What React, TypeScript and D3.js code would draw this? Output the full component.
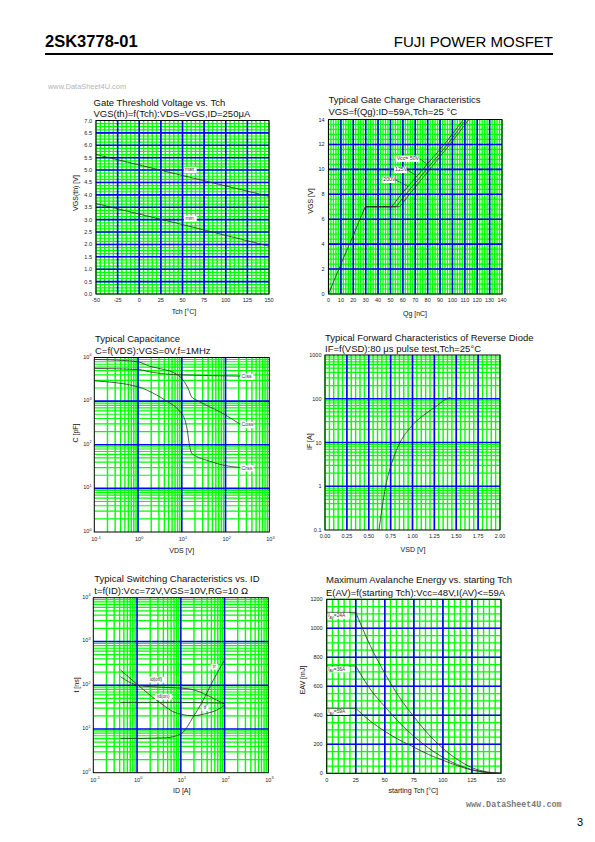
import React from 'react';
import * as d3 from 'd3';

type Pt = [number, number];

const FONT = '"Liberation Sans", Arial, Helvetica, sans-serif';
const GREEN = '#00ff00';
const BLUE = '#0000ff';
const INK = '#2a2a2a';

// ---------- Chart 1 : Gate threshold voltage vs Tch
const vthMax: Pt[] = [[-50, 5.63], [50, 4.78], [150, 3.94]];
const vthMin: Pt[] = [[-50, 3.65], [50, 2.8], [150, 1.93]];
const vthXTicks = [-50, -25, 0, 25, 50, 75, 100, 125, 150];
const vthYTicks = [0, 0.5, 1, 1.5, 2, 2.5, 3, 3.5, 4, 4.5, 5, 5.5, 6, 6.5, 7];

// ---------- Chart 2 : Gate charge
const gcStart: Pt[] = [[0, 0], [10, 2.4], [20, 4.7], [29.6, 7.0]];
const gc50: Pt[] = [[51, 7], [58.7, 8], [93.5, 12], [109, 14]];
const gc125: Pt[] = [[54.5, 7], [62.4, 8], [96, 12], [111, 14]];
const gc200: Pt[] = [[57.5, 7], [65.3, 8], [98, 12], [113.3, 14]];
const gcXTicks = [0, 10, 20, 30, 40, 50, 60, 70, 80, 90, 100, 110, 120, 130, 140];
const gcYTicks = [0, 2, 4, 6, 8, 10, 12, 14];
const gcNotes = [
  { text: 'Vcc= 50V', tx: 55, ty: 10.75, ex: 79, ey: 10.45 },
  { text: '125V', tx: 53.7, ty: 9.85, ex: 70, ey: 9.55 },
  { text: '200V', tx: 44.2, ty: 9.05, ex: 64.4, ey: 8.62 },
];

// ---------- Chart 3 : Capacitance (pF vs V)
const ciss: Pt[] = [[0.1, 5610], [1.0, 5310], [1.85, 4700], [4.0, 4200], [10.8, 3990], [40, 3850], [215, 3740]];
const coss: Pt[] = [[0.1, 9000], [0.32, 8700], [1.0, 7950], [1.85, 6310], [3.9, 5310], [6.6, 4470], [10.8, 3000], [14, 1930], [16.8, 1250], [21.8, 1050], [37, 800], [89, 515], [215, 294]];
const crss: Pt[] = [[0.1, 2920], [1.0, 2130], [2.65, 1380], [4.5, 1000], [9.1, 570], [11.8, 370], [13.3, 220], [14.9, 100], [16.8, 64], [21.8, 54], [37, 44], [89, 34], [215, 30]];
const capExp = [-1, 0, 1, 2, 3];
const capYExp = [0, 1, 2, 3, 4];

// ---------- Chart 4 : Reverse diode
const diode: Pt[] = [[0.617, 0.1], [0.65, 0.3], [0.693, 1], [0.75, 2.8], [0.8, 5.5], [0.857, 10], [0.93, 17], [1.0, 25], [1.125, 42], [1.25, 62], [1.39, 100], [1.436, 108]];
const diodeXTicks = [0, 0.25, 0.5, 0.75, 1.0, 1.25, 1.5, 1.75, 2.0];
const diodeYTicks = [0.1, 1, 10, 100, 1000];
const diodeYLabels = ['0.1', '1', '10', '100', '1000'];

// ---------- Chart 5 : Switching times (ns vs A)
const swTdOff: Pt[] = [[0.42, 156], [1.0, 100], [1.98, 92.5], [6.7, 87.8], [16.2, 81.7], [32.6, 65], [55.5, 50], [100, 37]];
const swTdOn: Pt[] = [[0.42, 40.5], [1, 40.5], [10, 40.5], [30, 40], [100, 39]];
const swTf: Pt[] = [[0.42, 222], [1.0, 105], [1.98, 59.5], [3.99, 34.9], [6.7, 24.8], [10.4, 21.5], [19.3, 20.0], [38.8, 22.7], [66.6, 27.0], [100, 35]];
const swTr: Pt[] = [[0.42, 6.1], [1.0, 6.1], [4.7, 6.3], [10.4, 7.9], [19.3, 19], [32.6, 45.7], [55.5, 131], [100, 376]];
const swNotes = [
  { text: 'td(off)', x: 2.69, y: 139 },
  { text: 'td(on)', x: 3.98, y: 56.6 },
  { text: 'tf', x: 35.7, y: 31.3 },
  { text: 'tr', x: 58.3, y: 275 },
];

// ---------- Chart 6 : Avalanche energy (mJ vs degC)
const eav24: Pt[] = [[0, 1110], [25, 1110], [37.5, 880], [50, 690], [62.5, 525], [75, 391], [87.5, 270], [100, 172], [112.5, 95], [125, 39], [137.5, 10], [150, 0]];
const eav36: Pt[] = [[0, 740], [25, 740], [37.5, 580], [50, 460], [62.5, 350], [75, 255], [87.5, 175], [100, 110], [112.5, 60], [125, 25], [137.5, 7], [150, 0]];
const eav59: Pt[] = [[0, 448], [25, 448], [37.5, 360], [50, 290], [62.5, 230], [75, 180], [87.5, 130], [100, 90], [112.5, 52], [125, 22], [137.5, 6], [150, 0]];
const eavLabels = ['24A', '36A', '59A'];
const eavXTicks = [0, 25, 50, 75, 100, 125, 150];
const eavYTicks = [0, 200, 400, 600, 800, 1000, 1200];

// ---------- helpers
function steps(min: number, max: number, step: number): number[] {
  const n = Math.round((max - min) / step);
  return d3.range(n + 1).map((i) => +(min + i * step).toFixed(6));
}
function logMinor(lo: number, hi: number): number[] {
  const out: number[] = [];
  for (let e = lo; e < hi; e++) for (let k = 2; k <= 9; k++) out.push(k * Math.pow(10, e));
  return out;
}
function decades(lo: number, hi: number): number[] {
  return d3.range(lo, hi + 1).map((e) => Math.pow(10, e));
}

function Grid({ x, y, xMinor, xMajor, yMinor, yMajor }: any) {
  const [x0, x1] = x.range();
  const [yb, yt] = y.range();
  return (
    <g>
      <rect x={x0} y={yt} width={x1 - x0} height={yb - yt} fill="#fff" />
      {xMinor.map((v: number, i: number) => (
        <line key={'xm' + i} x1={x(v)} x2={x(v)} y1={yb} y2={yt} stroke={GREEN} strokeWidth={1.4} />
      ))}
      {yMinor.map((v: number, i: number) => (
        <line key={'ym' + i} x1={x0} x2={x1} y1={y(v)} y2={y(v)} stroke={GREEN} strokeWidth={1.2} />
      ))}
      {xMajor.map((v: number, i: number) => (
        <line key={'xM' + i} x1={x(v)} x2={x(v)} y1={yb} y2={yt} stroke={BLUE} strokeWidth={1.6} />
      ))}
      {yMajor.map((v: number, i: number) => (
        <line key={'yM' + i} x1={x0} x2={x1} y1={y(v)} y2={y(v)} stroke={BLUE} strokeWidth={1.6} />
      ))}
      <rect x={x0} y={yt} width={x1 - x0} height={yb - yt} fill="none" stroke="#000" strokeWidth={1} />
    </g>
  );
}

const TICK = 5.5;

function XTicks({ x, y, values, fmt }: any) {
  const yb = y.range()[0];
  return (
    <g fontFamily={FONT} fontSize={TICK} fill="#222" textAnchor="middle">
      {values.map((v: number, i: number) => (
        <text key={i} x={x(v)} y={yb + 8.3}>{fmt(v)}</text>
      ))}
    </g>
  );
}
function YTicks({ x, y, values, fmt }: any) {
  const x0 = x.range()[0];
  return (
    <g fontFamily={FONT} fontSize={TICK} fill="#222" textAnchor="end">
      {values.map((v: number, i: number) => (
        <text key={i} x={x0 - 4} y={y(v) + 2}>{fmt(v)}</text>
      ))}
    </g>
  );
}
function XPow({ x, y, exps }: any) {
  const yb = y.range()[0];
  return (
    <g fontFamily={FONT} fontSize={TICK} fill="#222">
      {exps.map((e: number, i: number) => (
        <text key={i} x={x(Math.pow(10, e)) - 3} y={yb + 9}>
          10<tspan dy={-2.3} fontSize={3.8}>{String(e)}</tspan>
        </text>
      ))}
    </g>
  );
}
function YPow({ x, y, exps }: any) {
  const x0 = x.range()[0];
  return (
    <g fontFamily={FONT} fontSize={TICK} fill="#222">
      {exps.map((e: number, i: number) => (
        <text key={i} x={x0 - 11} y={y(Math.pow(10, e)) + 1}>
          10<tspan dy={-2.3} fontSize={3.8}>{String(e)}</tspan>
        </text>
      ))}
    </g>
  );
}

function Titles({ x, y1, y2, l1, l2 }: any) {
  return (
    <g fontFamily={FONT} fontSize={9.5} fill="#111">
      <text x={x} y={y1}>{l1}</text>
      <text x={x} y={y2}>{l2}</text>
    </g>
  );
}
function AxisTitles({ xl, xx, xy, yl, yx, yy }: any) {
  return (
    <g fontFamily={FONT} fontSize={7} fill="#111">
      <text x={xx} y={xy} textAnchor="middle">{xl}</text>
      <text transform={`translate(${yx + 2.5},${yy}) rotate(-90)`} textAnchor="middle">{yl}</text>
    </g>
  );
}
function Tag({ x, y, text, fs = 5.2, anchor = 'start' }: any) {
  const w = text.length * fs * 0.52 + 2;
  const left = anchor === 'start' ? x - 1 : x - w / 2;
  return (
    <g>
      <rect x={left} y={y - fs * 0.85} width={w} height={fs * 1.2} fill="#fff" />
      <text x={x} y={y} fontFamily={FONT} fontSize={fs} fill="#333" textAnchor={anchor}>{text}</text>
    </g>
  );
}

function path(x: any, y: any, pts: Pt[], curve: any = d3.curveLinear) {
  return d3.line<Pt>().x((d) => x(d[0])).y((d) => y(d[1])).curve(curve)(pts) || '';
}

const plain = (v: number) => String(v);

export default function App() {
  const x1 = d3.scaleLinear().domain([-50, 150]).range([96, 269]);
  const y1 = d3.scaleLinear().domain([0, 7]).range([294, 120.5]);
  const x2 = d3.scaleLinear().domain([0, 140]).range([328.5, 502]);
  const y2 = d3.scaleLinear().domain([0, 14]).range([294, 119.5]);
  const x3 = d3.scaleLog().domain([0.1, 1000]).range([94.3, 269.3]);
  const y3 = d3.scaleLog().domain([1, 10000]).range([532, 357.5]);
  const x4 = d3.scaleLinear().domain([0, 2]).range([325, 500]);
  const y4 = d3.scaleLog().domain([0.1, 1000]).range([530, 355]);
  const x5 = d3.scaleLog().domain([0.1, 1000]).range([93.3, 268.3]);
  const y5 = d3.scaleLog().domain([1, 10000]).range([772.7, 597.7]);
  const x6 = d3.scaleLinear().domain([0, 150]).range([326.7, 501]);
  const y6 = d3.scaleLinear().domain([0, 1200]).range([773.3, 599.3]);

  const lineStyle = { fill: 'none', stroke: INK, strokeWidth: 0.8 };
  const f1 = (v: number) => v.toFixed(1);
  const f2 = (v: number) => v.toFixed(2);

  return (
    <svg width={595} height={842} viewBox="0 0 595 842" style={{ position: 'absolute', left: 0, top: 0, background: '#fff' }}>
      <rect width={595} height={842} fill="#fff" />
      {/* header */}
      <text x={45} y={47} fontFamily={FONT} fontWeight="bold" fontSize={16.5} fill="#000">2SK3778-01</text>
      <text x={553} y={47} fontFamily={FONT} fontSize={15} fill="#000" textAnchor="end">FUJI POWER MOSFET</text>
      <line x1={45} x2={553} y1={54} y2={54} stroke="#000" strokeWidth={1.8} />
      <text x={48} y={89} fontFamily={FONT} fontSize={7.4} fill="#b4b4b4">www.DataSheet4U.com</text>

      {/* ===== chart 1 ===== */}
      <Titles x={93.5} y1={106} y2={117.3} l1="Gate Threshold Voltage vs. Tch" l2="VGS(th)=f(Tch):VDS=VGS,ID=250μA" />
      <Grid x={x1} y={y1} xMinor={steps(-50, 150, 5)} xMajor={steps(-25, 125, 25)} yMinor={steps(0, 7, 0.125)} yMajor={steps(0.5, 6.5, 0.5)} />
      <path d={path(x1, y1, vthMax)} {...lineStyle} />
      <path d={path(x1, y1, vthMin)} {...lineStyle} />
      <Tag x={x1(59)} y={y1(4.95)} text="max." anchor="middle" />
      <Tag x={x1(59)} y={y1(2.99)} text="min." anchor="middle" />
      <XTicks x={x1} y={y1} values={vthXTicks} fmt={plain} />
      <YTicks x={x1} y={y1} values={vthYTicks} fmt={f1} />
      <AxisTitles xl="Tch [°C]" xx={184} xy={314} yl="VGS(th) [V]" yx={75} yy={193} />

      {/* ===== chart 2 ===== */}
      <Titles x={328.5} y1={103.3} y2={115} l1="Typical Gate Charge Characteristics" l2="VGS=f(Qg):ID=59A,Tch=25 °C" />
      <Grid x={x2} y={y2} xMinor={steps(0, 140, 2)} xMajor={steps(10, 130, 10)} yMinor={steps(0, 14, 0.4)} yMajor={steps(2, 12, 2)} />
      <g>
        <clipPath id="c2clip"><rect x={328.5} y={119.5} width={173.5} height={174.5} /></clipPath>
        <g clipPath="url(#c2clip)">
          <path d={path(x2, y2, gcStart)} {...lineStyle} />
          {[gc50, gc125, gc200].map((s, i) => (
            <path key={i} d={path(x2, y2, [gcStart[gcStart.length - 1], ...s])} {...lineStyle} />
          ))}
        </g>
      </g>
      {gcNotes.map((n, i) => {
        const w = n.text.length * 5.2 * 0.52 + 1;
        return (
          <g key={i}>
            <line x1={x2(n.tx) + w} y1={y2(n.ty) - 1.5} x2={x2(n.ex)} y2={y2(n.ey)} stroke={INK} strokeWidth={0.7} />
            <Tag x={x2(n.tx)} y={y2(n.ty)} text={n.text} />
          </g>
        );
      })}
      <XTicks x={x2} y={y2} values={gcXTicks} fmt={plain} />
      <YTicks x={x2} y={y2} values={gcYTicks} fmt={plain} />
      <AxisTitles xl="Qg [nC]" xx={415} xy={316} yl="VGS [V]" yx={310} yy={201} />

      {/* ===== chart 3 ===== */}
      <Titles x={95} y1={342.3} y2={354.3} l1="Typical Capacitance" l2="C=f(VDS):VGS=0V,f=1MHz" />
      <Grid x={x3} y={y3} xMinor={logMinor(-1, 3)} xMajor={decades(0, 2)} yMinor={logMinor(0, 4)} yMajor={decades(1, 3)} />
      <path d={path(x3, y3, ciss, d3.curveMonotoneX)} {...lineStyle} />
      <path d={path(x3, y3, coss, d3.curveMonotoneX)} {...lineStyle} />
      <path d={path(x3, y3, crss, d3.curveMonotoneX)} {...lineStyle} />
      <Tag x={x3(ciss[ciss.length - 1][0]) + 1.5} y={y3(ciss[ciss.length - 1][1]) + 2} text="Ciss" />
      <Tag x={x3(coss[coss.length - 1][0]) + 1.5} y={y3(coss[coss.length - 1][1]) + 2} text="Coss" />
      <Tag x={x3(crss[crss.length - 1][0]) + 1.5} y={y3(crss[crss.length - 1][1]) + 2} text="Crss" />
      <XPow x={x3} y={y3} exps={capExp} />
      <YPow x={x3} y={y3} exps={capYExp} />
      <AxisTitles xl="VDS [V]" xx={181.7} xy={552.7} yl="C [pF]" yx={75} yy={433} />

      {/* ===== chart 4 ===== */}
      <Titles x={325} y1={341} y2={352} l1="Typical Forward Characteristics of Reverse Diode" l2="IF=f(VSD):80 μs pulse test,Tch=25°C" />
      <Grid x={x4} y={y4} xMinor={steps(0, 2, 0.05)} xMajor={steps(0.25, 1.75, 0.25)} yMinor={logMinor(-1, 3)} yMajor={decades(0, 2)} />
      <path d={path(x4, y4, diode, d3.curveMonotoneX)} {...lineStyle} />
      <XTicks x={x4} y={y4} values={diodeXTicks} fmt={f2} />
      <g fontFamily={FONT} fontSize={TICK} fill="#222" textAnchor="end">
        {diodeYTicks.map((v, i) => (
          <text key={i} x={321.5} y={y4(v) + 2}>{diodeYLabels[i]}</text>
        ))}
      </g>
      <AxisTitles xl="VSD [V]" xx={413} xy={551.7} yl="IF [A]" yx={309} yy={441.7} />

      {/* ===== chart 5 ===== */}
      <Titles x={94.3} y1={582.3} y2={594.3} l1="Typical Switching Characteristics vs. ID" l2="t=f(ID):Vcc=72V,VGS=10V,RG=10 Ω" />
      <Grid x={x5} y={y5} xMinor={logMinor(-1, 3)} xMajor={decades(0, 2)} yMinor={logMinor(0, 4)} yMajor={decades(1, 3)} />
      {[swTdOff, swTdOn, swTf, swTr].map((s, i) => (
        <path key={i} d={path(x5, y5, s, d3.curveMonotoneX)} {...lineStyle} />
      ))}
      {swNotes.map((n, i) => (
        <Tag key={i} x={x5(n.x)} y={y5(n.y) + 2} text={n.text} anchor="middle" fs={4.8} />
      ))}
      <XPow x={x5} y={y5} exps={capExp} />
      <YPow x={x5} y={y5} exps={capYExp} />
      <AxisTitles xl="ID [A]" xx={181.7} xy={792.7} yl="t [ns]" yx={76} yy={685} />

      {/* ===== chart 6 ===== */}
      <Titles x={326} y1={583.3} y2={595.7} l1="Maximum Avalanche Energy vs. starting Tch" l2="E(AV)=f(starting Tch):Vcc=48V,I(AV)<=59A" />
      <Grid x={x6} y={y6} xMinor={steps(0, 150, 5)} xMajor={steps(25, 125, 25)} yMinor={steps(0, 1200, 50)} yMajor={steps(200, 1000, 200)} />
      {[eav24, eav36, eav59].map((s, i) => (
        <g key={i}>
          <path d={path(x6, y6, s.slice(0, 2))} {...lineStyle} />
          <path d={path(x6, y6, s.slice(1), d3.curveMonotoneX)} {...lineStyle} />
          <g>
            <rect x={x6(0) + 1} y={y6(s[0][1]) + 0.5} width={22} height={6} fill="#fff" />
            <text x={x6(0) + 1.5} y={y6(s[0][1]) + 5} fontFamily={FONT} fontSize={4.8} fill="#333">
              I<tspan dy={1.2} fontSize={3.4}>AV</tspan><tspan dy={-1.2}>={eavLabels[i]}</tspan>
            </text>
          </g>
        </g>
      ))}
      <XTicks x={x6} y={y6} values={eavXTicks} fmt={plain} />
      <YTicks x={x6} y={y6} values={eavYTicks} fmt={plain} />
      <AxisTitles xl="starting Tch [°C]" xx={413.3} xy={793.3} yl="EAV [mJ]" yx={302.7} yy={680} />

      {/* footer */}
      <text x={466} y={807} fontFamily={'"Liberation Mono", "DejaVu Sans Mono", monospace'} fontSize={8.4} fill="#7a7a7a" fontWeight="bold">www.DataSheet4U.com</text>
      <text x={577} y={826} fontFamily={FONT} fontSize={11} fill="#000">3</text>
    </svg>
  );
}
